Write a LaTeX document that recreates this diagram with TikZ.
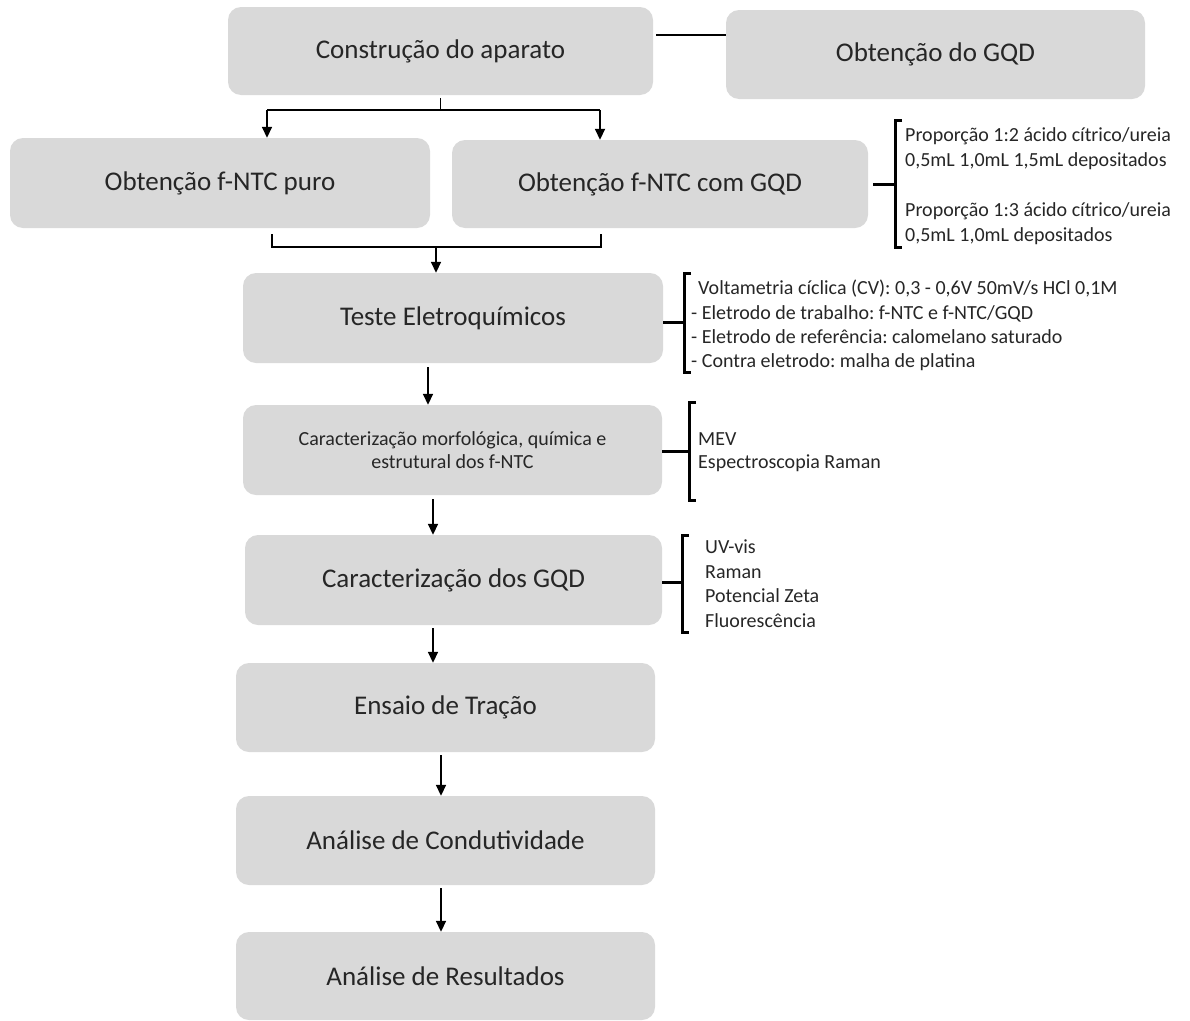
\documentclass[tikz,border=0pt]{standalone}
\usepackage{fontspec}
\setmainfont{Carlito}
\frenchspacing
\usetikzlibrary{arrows.meta}
\definecolor{boxgray}{HTML}{D9D9D9}
\definecolor{inkgray}{HTML}{262626}
\tikzset{
  stage/.style={fill=boxgray, rounded corners=13pt, minimum width=419pt,
    minimum height=89pt, inner sep=0pt, text=inkgray,
    font=\fontsize{27}{32}\selectfont},
  smallstage/.style={stage, align=center, font=\fontsize{20}{23}\selectfont},
  note/.style={anchor=north west, inner sep=0pt, align=left, text=inkgray},
  link/.style={line width=1.7pt},
  arr/.style={link, -{Triangle[width=10pt,length=11pt]}},
  brace/.style={line width=3pt, line join=miter},
}
\begin{document}
\begin{tikzpicture}[x=1pt,y=-1pt]
\useasboundingbox (0,0) rectangle (1190,1020);

% etapas
\node[stage, minimum width=425pt, minimum height=88pt] (constr) at (440.5,51) {Construção do aparato};
\node[stage] (gqd) at (935.5,54.5) {Obtenção do GQD};
\node[stage, minimum width=420pt, minimum height=90pt] (puro) at (220,183) {Obtenção f-NTC puro};
\node[stage, minimum width=416pt, minimum height=88pt] (comgqd) at (660,184) {Obtenção f-NTC com GQD};
\node[stage, minimum width=420pt, minimum height=90pt] (teste) at (453,318) {Teste Eletroquímicos};
\node[smallstage, minimum height=90pt] (morf) at (452.5,450) {Caracterização morfológica, química e\\estrutural dos f-NTC};
\node[stage, minimum width=417pt, minimum height=90pt] (caract) at (453.5,580) {Caracterização dos GQD};
\node[stage] (ensaio) at (445.5,707.5) {Ensaio de Tração};
\node[stage] (condut) at (445.5,840.5) {Análise de Condutividade};
\node[stage, minimum height=88pt] (result) at (445.5,976) {Análise de Resultados};

% ligacoes do topo
\draw[link] (constr.east |- 0,35) ++(3,0) -- (gqd.west |- 0,35);
\coordinate (splitL) at (267,110);
\coordinate (splitR) at (600,110);
\draw[link] ([yshift=-3pt]constr.south) -- (constr.south |- splitL);
\draw[link] (splitL) -- (splitR);
\draw[arr] (splitL) -- (splitL |- puro.north);
\draw[arr] (splitR) -- (splitR |- comgqd.north);

% juncao
\coordinate (joinL) at (272,247);
\coordinate (joinR) at (601,247);
\coordinate (joinM) at (436,247);
\draw[link] (joinL |- 0,234) -- (joinL) -- (joinR) -- (joinR |- 0,234);
\draw[arr] (joinM) -- (joinM |- teste.north);

% sequencia
\draw[arr] (teste.south -| 428,0) ++(0,4) -- (morf.north -| 428,0);
\draw[arr] (morf.south -| 433,0) ++(0,4) -- (caract.north -| 433,0);
\draw[arr] (caract.south -| 433,0) ++(0,3) -- (ensaio.north -| 433,0);
\draw[arr] (ensaio.south -| 441,0) ++(0,3) -- (condut.north -| 441,0);
\draw[arr] (condut.south -| 441,0) ++(0,3) -- (result.north -| 441,0);

% chaves e notas
\draw[brace] (902,120) -- (895,120) -- (895,247) -- (902,247);
\draw[brace] (comgqd.east) ++(5,0) -- (895,184);
\node[note, font=\fontsize{20}{25}\selectfont] (gqdnote) at (905,127)
  {Proporção 1:2 ácido cítrico/ureia\\0,5mL 1,0mL 1,5mL depositados\\[25pt]
   Proporção 1:3 ácido cítrico/ureia\\0,5mL 1,0mL depositados};

\draw[brace] (691,273) -- (684,273) -- (684,372) -- (691,372);
\draw[brace] (teste.east |- 0,322) -- (684,322);
\node[note, font=\fontsize{20}{24.3}\selectfont] (testenote) at (691,280)
  {\hspace*{7pt}Voltametria cíclica (CV): 0,3 - 0,6V 50mV/s HCl 0,1M\\
   - Eletrodo de trabalho: f-NTC e f-NTC/GQD\\
   - Eletrodo de referência: calomelano saturado\\
   - Contra eletrodo: malha de platina};

\draw[brace] (696,402) -- (689,402) -- (689,500) -- (696,500);
\draw[brace] (morf.east |- 0,451) -- (689,451);
\node[note, font=\fontsize{20}{23}\selectfont] (morfnote) at (698,432)
  {MEV\\Espectroscopia Raman};

\draw[brace] (689,535) -- (682,535) -- (682,632) -- (689,632);
\draw[brace] (caract.east |- 0,582) -- (682,582);
\node[note, font=\fontsize{20}{24.5}\selectfont] (caractnote) at (705,540)
  {UV-vis\\Raman\\Potencial Zeta\\Fluorescência};
\end{tikzpicture}
\end{document}
